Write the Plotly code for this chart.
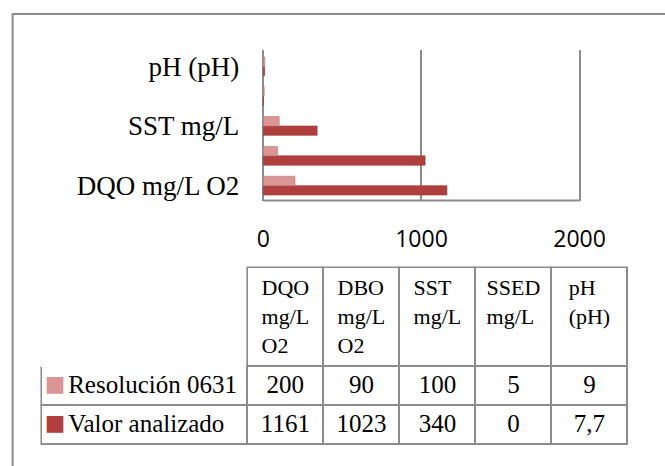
import plotly.graph_objects as go

# ---- data ----
categories = ["DQO mg/L O2", "DBO mg/L O2", "SST mg/L", "SSED mg/L", "pH (pH)"]
header_labels = ["DQO<br>mg/L<br>O2", "DBO<br>mg/L<br>O2", "SST<br>mg/L", "SSED<br>mg/L", "pH<br>(pH)"]
series_names = ["Resolución 0631", "Valor analizado"]
resolucion = [200, 90, 100, 5, 9]
valor = [1161, 1023, 340, 0, 7.7]
x_ticks = [0, 1000, 2000]

c_light = "#d99694"
c_dark = "#b0403e"
grey = "#8c8c8c"
W, H = 665, 466

def fmt(v):
    return str(v).replace(".", ",")

fig = go.Figure()

# bars (Valor first -> lower position in each group)
fig.add_trace(go.Bar(
    y=categories, x=valor, orientation="h", name=series_names[1],
    marker=dict(color=c_dark, line=dict(color="#9a3533", width=0.6)),
    showlegend=False, hoverinfo="x+y",
))
fig.add_trace(go.Bar(
    y=categories, x=resolucion, orientation="h", name=series_names[0],
    marker=dict(color=c_light, line=dict(color="#c07876", width=0.6)),
    showlegend=False, hoverinfo="x+y",
))

# ---- data table ----
NB = "\u00a0"
legend_col = [NB * 3 + name.replace(" ", NB) for name in series_names]
cols = [legend_col] + [[fmt(r), fmt(v)] for r, v in zip(resolucion, valor)]

table_x0, table_x1 = 40 / W, 650 / W
table_top = 1 - 268 / H
header_h, row_h = 99, 39

fig.add_trace(go.Table(
    domain=dict(x=[table_x0, table_x1], y=[0, table_top]),
    columnwidth=[214, 79, 79, 79, 79, 79],
    header=dict(
        values=[""] + header_labels,
        fill=dict(color="white"),
        line=dict(color=["white"] + [grey] * 5, width=2),
        align="center",
        font=dict(family="Liberation Serif", size=22, color="black"),
        height=header_h,
    ),
    cells=dict(
        values=cols,
        fill=dict(color="white"),
        line=dict(color=grey, width=2),
        align=["left"] + ["center"] * 5,
        font=dict(family="Liberation Serif", size=25, color="black"),
        height=row_h,
    ),
))

# legend keys (coloured squares) laid over the first table column
fig.add_trace(go.Table(
    domain=dict(x=[table_x0 - 5 / W, table_x0 + 24 / W], y=[0, table_top]),
    columnwidth=[1],
    header=dict(
        values=[""],
        fill=dict(color="rgba(0,0,0,0)"),
        line=dict(width=0, color="rgba(0,0,0,0)"),
        height=header_h,
    ),
    cells=dict(
        values=[["■", "■"]],
        fill=dict(color="rgba(0,0,0,0)"),
        line=dict(width=0, color="rgba(0,0,0,0)"),
        align="left",
        font=dict(family="DejaVu Sans", size=22, color=[[c_light, c_dark]]),
        height=row_h,
    ),
))

pad = 20
px_per_unit = (600 - 271) / 2000
fig.update_layout(
    width=W, height=H,
    margin=dict(l=0, r=0, t=0, b=0),
    paper_bgcolor="white", plot_bgcolor="white",
    barmode="group", bargap=0.37, bargroupgap=0,
    xaxis=dict(
        domain=[(271 - pad * px_per_unit) / W, (600 + pad * px_per_unit) / W],
        range=[-pad, 2000 + pad],
        tickvals=x_ticks, ticktext=[str(t) for t in x_ticks],
        showgrid=True, gridcolor=grey, gridwidth=2,
        zeroline=False, showline=False,
        ticks="", ticklabelstandoff=22,
        tickfont=dict(family="Open Sans", size=23, color="black"),
    ),
    yaxis=dict(
        domain=[1 - 201 / H, 1 - 50 / H],
        type="category", categoryorder="array", categoryarray=categories,
        range=[-0.5, 4.55],
        tickvals=[categories[0], categories[2], categories[4]],
        ticktext=[categories[0], categories[2], categories[4]],
        showgrid=False, zeroline=False, showline=False, ticks="",
        ticklabelstandoff=20,
        tickfont=dict(family="Liberation Serif", size=27, color="black"),
    ),
    shapes=[
        dict(
            type="rect", xref="paper", yref="paper",
            x0=10 / W, x1=1.2, y0=-0.2, y1=1 - 14 / H,
            line=dict(color=grey, width=2), fillcolor="rgba(0,0,0,0)", layer="below",
        ),
        dict(
            type="line", xref="x", yref="y domain",
            x0=x_ticks[0], x1=x_ticks[-1], y0=0, y1=0,
            line=dict(color=grey, width=2), layer="below",
        ),
    ],
)

fig.write_html("out.html")
